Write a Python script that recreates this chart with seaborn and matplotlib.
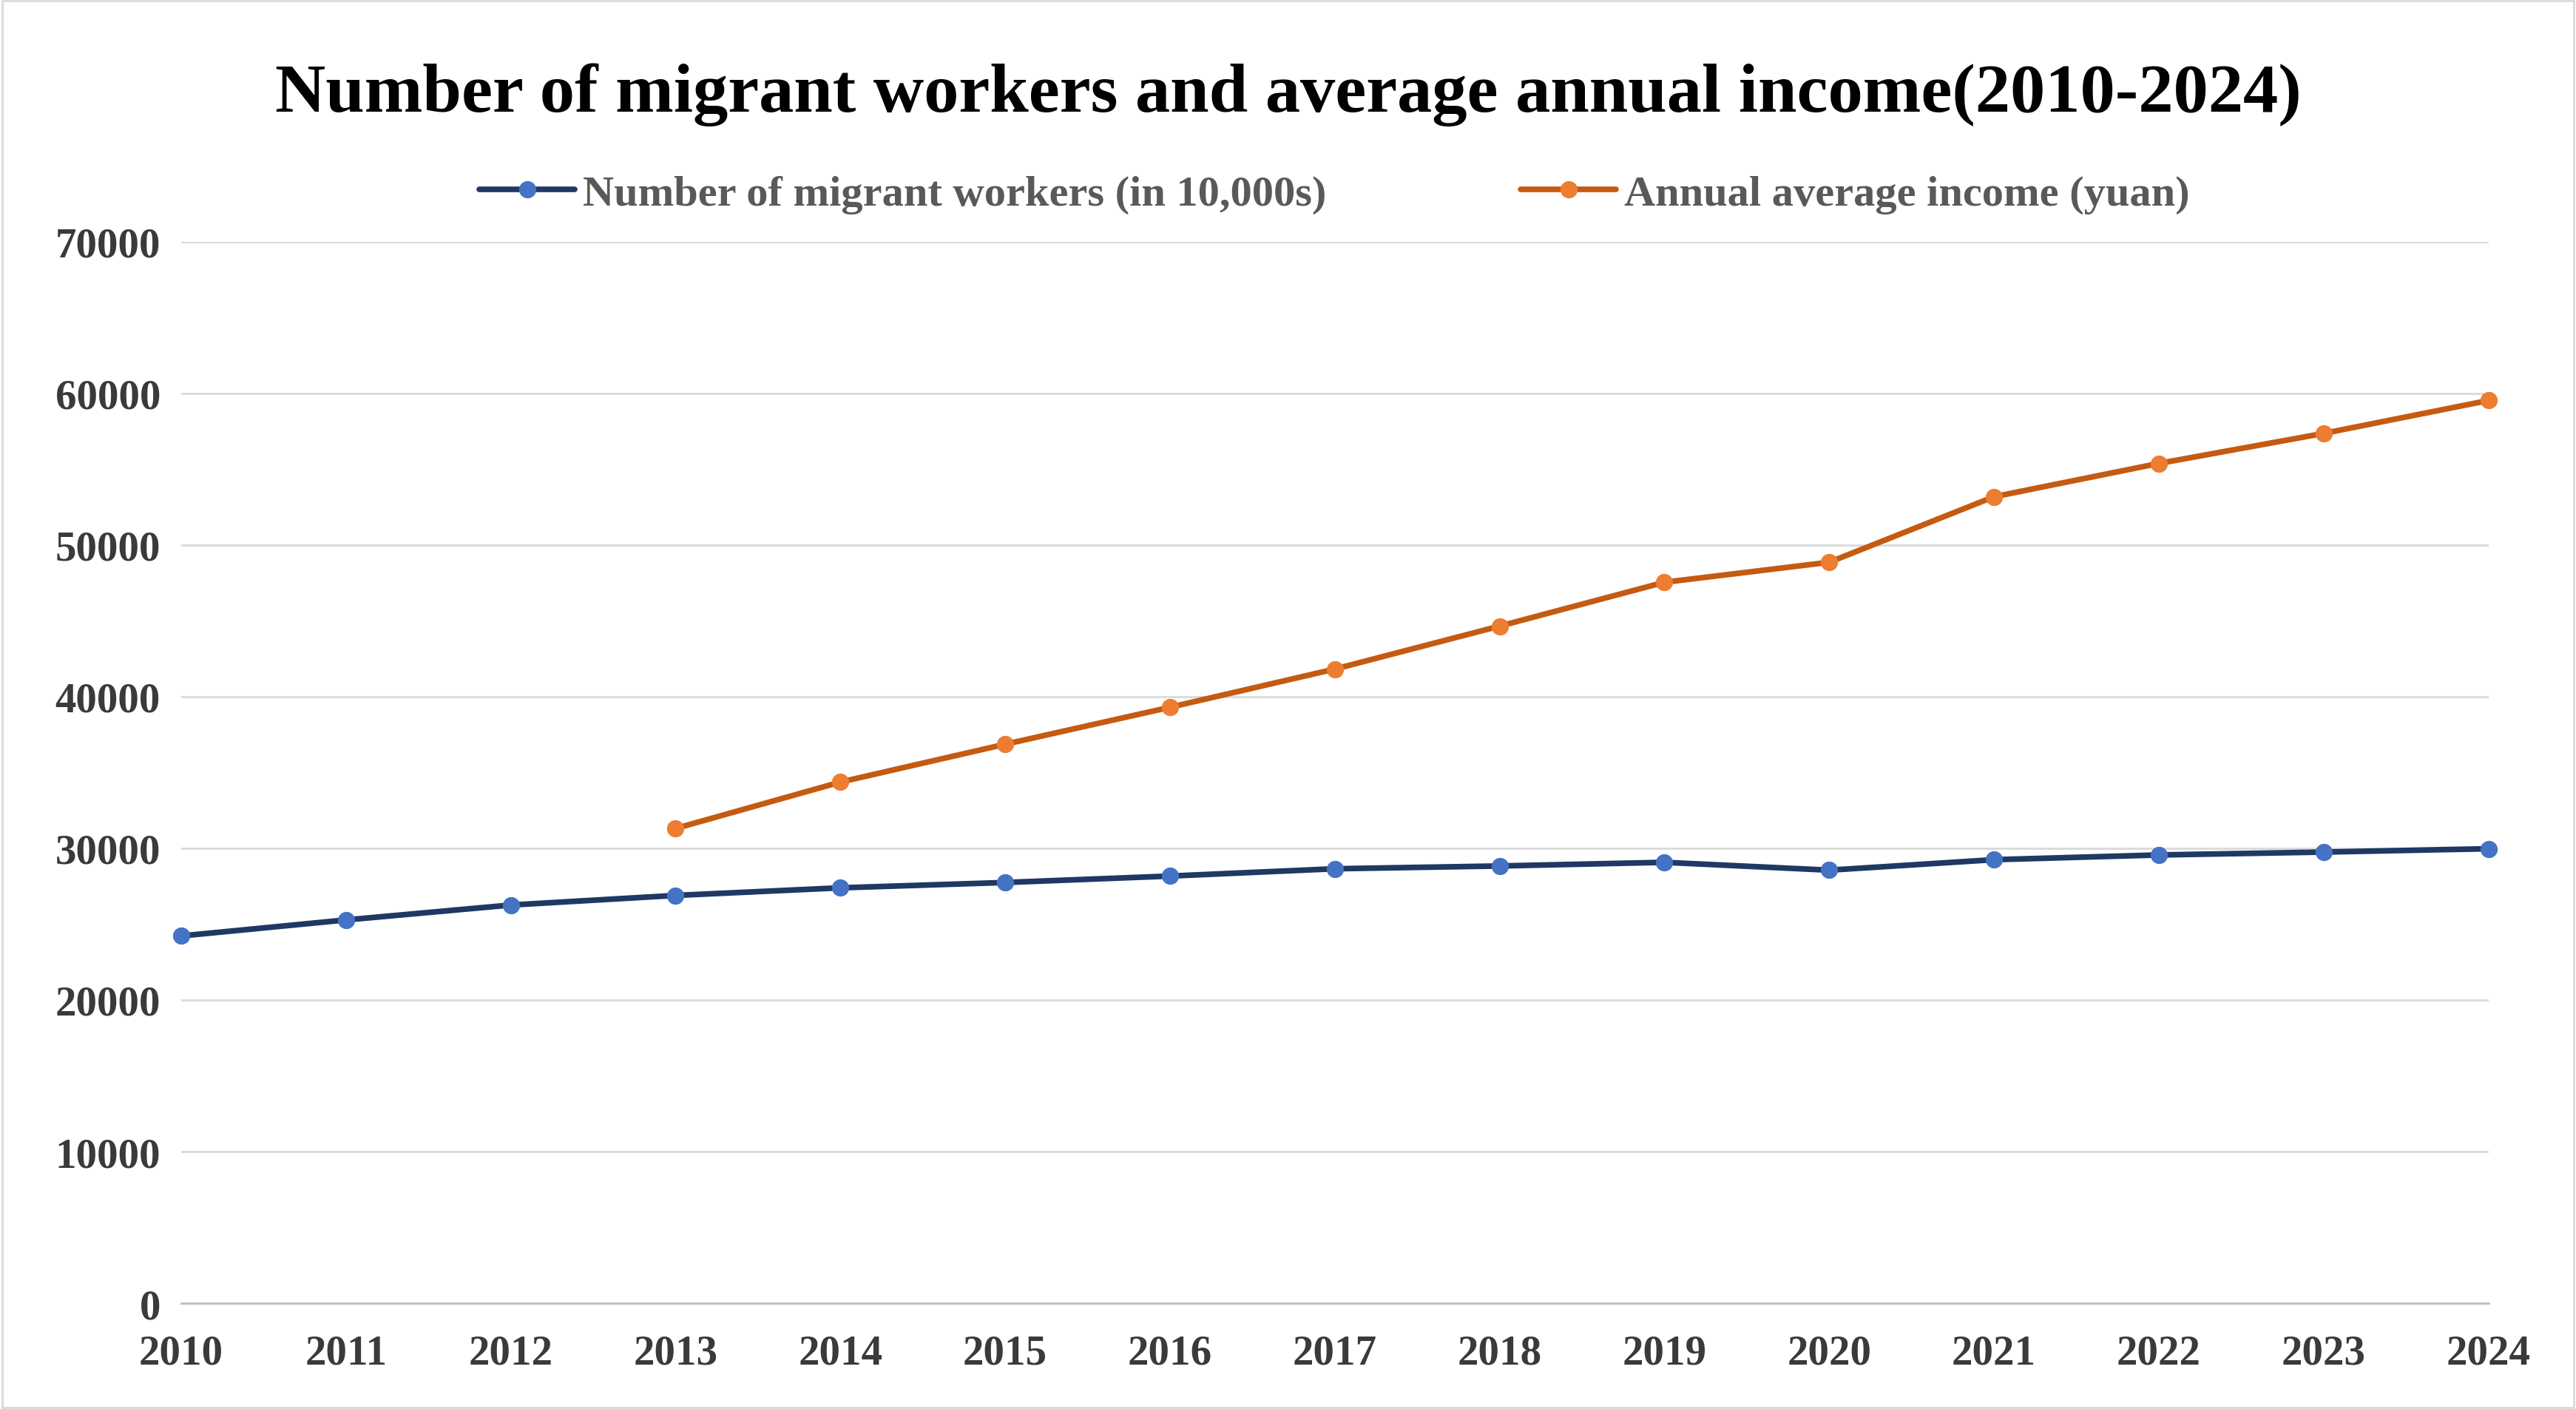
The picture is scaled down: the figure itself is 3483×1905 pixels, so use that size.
import matplotlib
matplotlib.use("Agg")
import matplotlib.pyplot as plt
import seaborn as sns
import pandas as pd

years = list(range(2010, 2025))
workers = [24223, 25278, 26261, 26894, 27395, 27747, 28171, 28652, 28836, 29077, 28560, 29251, 29562, 29753, 29973]
income_years = list(range(2013, 2025))
income = [31308, 34368, 36864, 39300, 41820, 44652, 47544, 48864, 53184, 55380, 57360, 59532]

sns.set_theme(style="white")
plt.rcParams['font.family'] = ['Liberation Serif', 'DejaVu Serif']
plt.rcParams['font.weight'] = 'bold'

df_w = pd.DataFrame({"year": years, "value": workers})
df_i = pd.DataFrame({"year": income_years, "value": income})

fig = plt.figure(figsize=(34.83, 19.06), dpi=100)
ax = fig.add_axes([0.0703, 0.075, 0.8957, 0.753])

sns.lineplot(data=df_w, x="year", y="value", ax=ax, color="#1f3864", lw=5.5,
             marker="o", markersize=16, markerfacecolor="#4472c4", markeredgecolor="#4472c4",
             label="Number of migrant workers (in 10,000s)", clip_on=False, zorder=3)
sns.lineplot(data=df_i, x="year", y="value", ax=ax, color="#c55a11", lw=5.5,
             marker="o", markersize=16, markerfacecolor="#ed7d31", markeredgecolor="#ed7d31",
             label="Annual average income (yuan)", clip_on=False, zorder=3)

ax.set_xlim(2010, 2024)
ax.set_ylim(0, 70000)
ax.set_xticks(years)
ax.set_yticks(range(0, 70001, 10000))
ax.tick_params(axis='both', labelsize=41, length=0, colors="#3a3a3a")
ax.tick_params(axis='x', pad=30)
ax.tick_params(axis='y', pad=20)
for lab in ax.get_xticklabels() + ax.get_yticklabels():
    lab.set_fontweight('bold')
ax.set_xlabel("")
ax.set_ylabel("")
ax.grid(axis='y', color="#d9d9d9", lw=2)
for s in ["top", "right", "left"]:
    ax.spines[s].set_visible(False)
ax.spines["bottom"].set_color("#bfbfbf")
ax.spines["bottom"].set_linewidth(2)

leg = ax.legend(loc="lower center", bbox_to_anchor=(0.5, 0.99), ncol=2, frameon=False,
                fontsize=42, columnspacing=4.5, handlelength=2.2, handletextpad=0.2)
for t in leg.get_texts():
    t.set_color("#595959")
    t.set_fontweight('bold')

fig.suptitle("Number of migrant workers and average annual income(2010-2024)",
             fontsize=68, fontweight='bold', y=0.955, color="black")

border = plt.Rectangle((0.001, 0.001), 0.998, 0.998, transform=fig.transFigure,
                       fill=False, edgecolor="#d9d9d9", lw=2)
fig.patches.append(border)

fig.savefig("out.png", dpi=100)
